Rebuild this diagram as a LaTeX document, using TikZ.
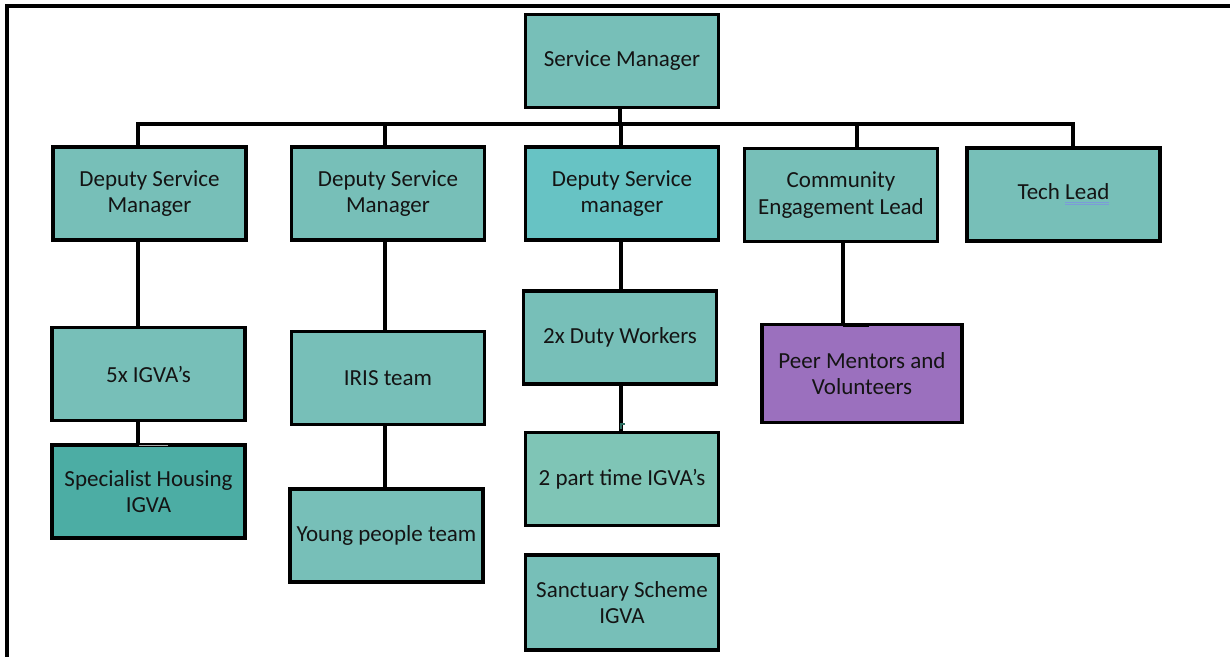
\documentclass[tikz,border=0pt]{standalone}
\usepackage{fontspec}
\setmainfont{Carlito}
\definecolor{tealA}{HTML}{77BFB8}
\definecolor{tealB}{HTML}{67C3C4}
\definecolor{tealC}{HTML}{4CADA4}
\definecolor{tealD}{HTML}{7FC5B6}
\definecolor{purp}{HTML}{9B70BE}
\definecolor{txt}{HTML}{141414}
\definecolor{ublue}{HTML}{7C9BD8}
\definecolor{tickgrey}{HTML}{A8A8A8}
\definecolor{tickgreen}{HTML}{2E6F62}
\newcommand\dblu[1]{\setbox0\hbox{#1}\rlap{\textcolor{ublue}{\rule[-3.2pt]{\wd0}{1pt}}}\rlap{\textcolor{ublue}{\rule[-5.6pt]{\wd0}{1pt}}}#1}
\begin{document}
\begin{tikzpicture}[x=1pt,y=-1pt,
  box/.style={draw=black, line width=3.2pt, fill=tealA, minimum width=193pt,
    minimum height=93pt, inner sep=1pt, align=center, text=txt,
    font=\fontsize{23}{26.7}\selectfont},
  conn/.style={line width=3.2pt, draw=black}]
\useasboundingbox (0,0) rectangle (1230,656);
% frame
\draw[line width=3.2pt] (7,660) -- (7,6) -- (1232,6);
% nodes
\node[box] (sm) at (622,61) {Service Manager};
\node[box] (dsm1) at (149.5,193.5) {Deputy Service\\Manager};
\node[box] (dsm2) at (388,193.5) {Deputy Service\\Manager};
\node[box, fill=tealB] (dsm3) at (622,193.5) {Deputy Service\\manager};
\node[box] (cel) at (841,195) {Community\\Engagement Lead};
\node[box] (tech) at (1063.5,194.5) {Tech \dblu{Lead}};
\node[box] (igva5) at (148.5,374) {5x IGVA’s};
\node[box] (iris) at (388,378) {IRIS team};
\node[box] (duty) at (620,337.5) {2x Duty Workers};
\node[box, fill=purp, minimum width=200pt, minimum height=98pt] (peer) at (862,373.5) {Peer Mentors and\\Volunteers};
\node[box, fill=tealC] (spec) at (148.5,491.5) {Specialist Housing\\IGVA};
\node[box] (young) at (386.5,535.5) {Young people team};
\node[box, fill=tealD] (pt) at (622,479) {2 part time IGVA’s};
\node[box, minimum height=95pt] (sanct) at (622,602.5) {Sanctuary Scheme\\IGVA};
% bus
\coordinate (bus) at (0,124);
\coordinate (s0) at ([xshift=-2pt]sm.south);
\coordinate (t1) at ([xshift=-11.5pt]dsm1.north);
\coordinate (t2) at ([xshift=-3pt]dsm2.north);
\coordinate (t3) at ([xshift=-1pt]dsm3.north);
\coordinate (t4) at ([xshift=16pt]cel.north);
\coordinate (t5) at ([xshift=9.5pt]tech.north);
\draw[conn] (s0) -- (s0 |- bus);
\draw[conn] (t1) -- (t1 |- bus) -- (t5 |- bus) -- (t5);
\draw[conn] (t2) -- (t2 |- bus);
\draw[conn] (t3) -- (t3 |- bus);
\draw[conn] (t4) -- (t4 |- bus);
% lower connectors
\draw[conn] ([xshift=-11.5pt]dsm1.south) -- ([xshift=-10.5pt]igva5.north);
\draw[conn] ([xshift=-10.5pt]igva5.south) -- ([xshift=-10.5pt]spec.north);
\draw[tickgrey, line width=1pt] ([xshift=-10pt,yshift=-2pt]spec.north) -- ([xshift=19pt,yshift=-2pt]spec.north);
\draw[conn] ([xshift=-3pt]dsm2.south) -- ([xshift=-3pt]iris.north);
\draw[conn] ([xshift=-3pt]iris.south) -- ([xshift=-1.5pt]young.north);
\draw[line width=3.4pt] ([xshift=-3.5pt,yshift=2pt]young.south) -- ([xshift=26.5pt,yshift=2pt]young.south);
\draw[conn] ([xshift=-1pt]dsm3.south) -- ([xshift=1pt]duty.north);
\draw[conn] ([xshift=1pt]duty.south) -- ([xshift=-1pt]pt.north);
\draw[tickgreen, line width=1.6pt] ([xshift=-1pt,yshift=2pt]pt.north) -- ([xshift=-1pt,yshift=7pt]pt.north) -- ([xshift=3pt,yshift=7pt]pt.north);
\draw[conn] ([xshift=2pt]cel.south) -- ([xshift=-19pt]peer.north);
\draw[line width=3.4pt] ([xshift=-19pt,yshift=-2.5pt]peer.north) -- ([xshift=7pt,yshift=-2.5pt]peer.north);
\end{tikzpicture}
\end{document}
